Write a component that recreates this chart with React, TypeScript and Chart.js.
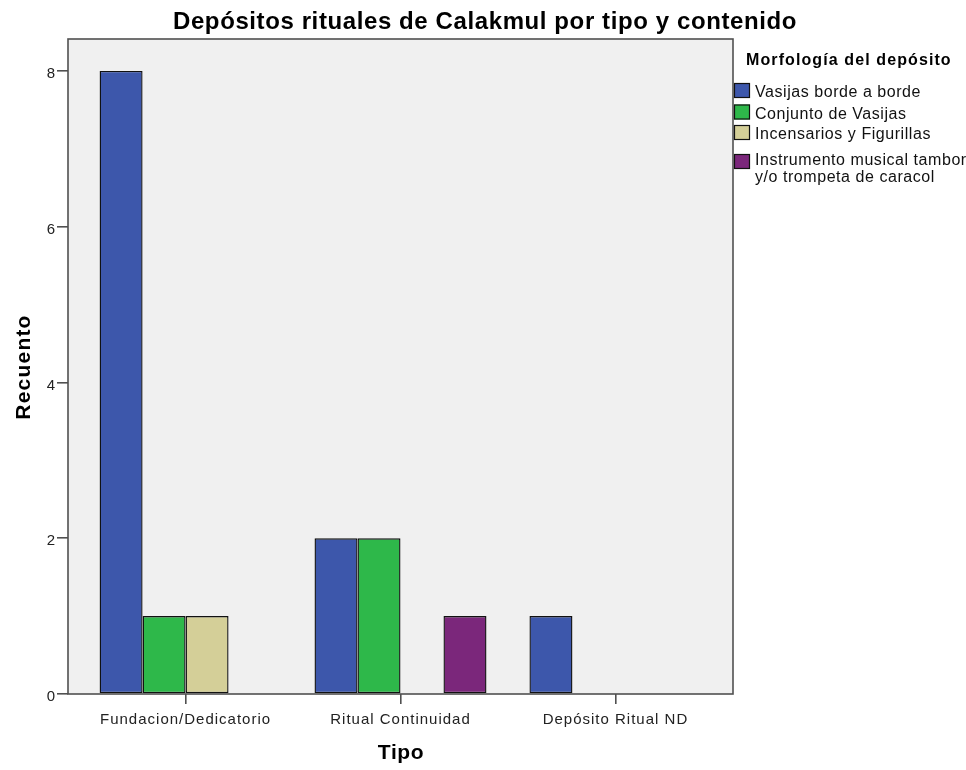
import React, { useEffect, useRef } from "react";
import { Chart, registerables } from "chart.js";

Chart.register(...registerables);

const TITLE = "Depósitos rituales de Calakmul por tipo y contenido";
const X_TITLE = "Tipo";
const Y_TITLE = "Recuento";
const LEGEND_TITLE = "Morfología del depósito";

const categories = ["Fundacion/Dedicatorio", "Ritual Continuidad", "Depósito Ritual ND"];

const seriesNames = [
  ["Vasijas borde a borde"],
  ["Conjunto de Vasijas"],
  ["Incensarios y Figurillas"],
  ["Instrumento musical tambor", "y/o trompeta de caracol"],
];

const vasijasBorde = [8, 2, 1];
const conjuntoVasijas = [1, 2, 0];
const incensarios = [1, 0, 0];
const instrumento = [0, 1, 0];

const seriesColors = ["#3d57ab", "#2eb84a", "#d4cf98", "#7b277b"];

const yTicks = [0, 2, 4, 6, 8];

const FONT = "Arial, 'Liberation Sans', sans-serif";

export default function App() {
  const ref = useRef<HTMLCanvasElement | null>(null);

  useEffect(() => {
    if (!ref.current) return;
    const values = [vasijasBorde, conjuntoVasijas, incensarios, instrumento];

    const decorPlugin = {
      id: "decor",
      beforeDraw(chart: any) {
        const { ctx, chartArea: a } = chart;
        ctx.save();
        ctx.fillStyle = "#f0f0f0";
        ctx.fillRect(a.left, a.top, a.right - a.left, a.bottom - a.top);
        ctx.restore();
        (ctx as any).letterSpacing = "1px";
      },
      afterDatasetsDraw(chart: any) {
        const { ctx, chartArea: a } = chart;
        ctx.save();
        ctx.strokeStyle = "#505050";
        ctx.lineWidth = 1.6;
        ctx.strokeRect(a.left, a.top, a.right - a.left, a.bottom - a.top);
        ctx.restore();
      },
      afterDraw(chart: any) {
        const { ctx } = chart;
        ctx.save();
        ctx.fillStyle = "#000";
        ctx.textBaseline = "alphabetic";
        ctx.textAlign = "center";
        // main title
        (ctx as any).letterSpacing = "0.6px";
        ctx.font = `bold 24px ${FONT}`;
        ctx.fillText(TITLE, 485, 29);
        // x title
        (ctx as any).letterSpacing = "0.6px";
        ctx.font = `bold 21px ${FONT}`;
        ctx.fillText(X_TITLE, 401, 759);
        // y title
        ctx.save();
        (ctx as any).letterSpacing = "1.2px";
        ctx.translate(30, 367);
        ctx.rotate(-Math.PI / 2);
        ctx.fillText(Y_TITLE, 0, 0);
        ctx.restore();
        // legend
        ctx.textAlign = "left";
        (ctx as any).letterSpacing = "1.1px";
        ctx.font = `bold 16px ${FONT}`;
        ctx.fillText(LEGEND_TITLE, 746, 65);
        (ctx as any).letterSpacing = "0.55px";
        ctx.font = `16px ${FONT}`;
        const boxTops = [83, 104.5, 125, 154];
        const baselines = [[97], [118.5], [139], [165, 182]];
        chart.data.datasets.forEach((ds: any, i: number) => {
          const top = boxTops[i];
          ctx.fillStyle = ds.backgroundColor;
          ctx.fillRect(734, top, 16, 15);
          ctx.strokeStyle = "#111";
          ctx.lineWidth = 1.2;
          ctx.strokeRect(734.5, top + 0.5, 15, 14);
          ctx.fillStyle = "#111";
          seriesNames[i].forEach((line, k) => {
            ctx.fillText(line, 755, baselines[i][k]);
          });
        });
        ctx.restore();
      },
    };

    const chart = new Chart(ref.current, {
      type: "bar",
      data: {
        datasets: values.map((vals, i) => ({
          label: seriesNames[i].join(" "),
          data: vals.map((v, j) => ({ x: j, y: v === 0 ? null : v })),
          backgroundColor: seriesColors[i],
          borderColor: "#111",
          borderWidth: 1.4,
          borderSkipped: false,
          categoryPercentage: 0.8,
          barPercentage: 1.0,
        })) as any,
      },
      options: {
        animation: false,
        responsive: false,
        devicePixelRatio: 1,
        layout: { padding: { top: 39, right: 233, left: 0, bottom: 0 } },
        plugins: {
          legend: { display: false },
          title: { display: false },
          tooltip: { enabled: false },
        },
        scales: {
          x: {
            type: "linear",
            min: -0.547,
            max: 2.547,
            offset: false,
            afterBuildTicks(scale: any) {
              scale.ticks = categories.map((_, i) => ({ value: i }));
            },
            afterFit(scale: any) {
              scale.height = 76;
            },
            ticks: {
              autoSkip: false,
              maxRotation: 0,
              padding: 7,
              color: "#222",
              font: { family: FONT, size: 15 },
              callback: (v: any) => categories[Math.round(Number(v))] ?? "",
            },
            grid: {
              display: true,
              offset: false,
              drawOnChartArea: false,
              drawTicks: true,
              tickLength: 10,
              color: "#505050",
              lineWidth: 1.6,
            },
            border: { display: false },
          },
          y: {
            type: "linear",
            min: 0,
            max: 8.41,
            afterBuildTicks(scale: any) {
              scale.ticks = yTicks.map((v) => ({ value: v }));
            },
            afterFit(scale: any) {
              scale.width = 68;
            },
            ticks: {
              padding: 1,
              labelOffset: 3,
              color: "#222",
              font: { family: FONT, size: 15 },
            },
            grid: {
              display: true,
              drawOnChartArea: false,
              drawTicks: true,
              tickLength: 11,
              color: "#505050",
              lineWidth: 1.6,
            },
            border: { display: false },
          },
        },
      },
      plugins: [decorPlugin],
    });
    return () => chart.destroy();
  }, []);

  return (
    <div style={{ position: "absolute", left: 0, top: 0, width: 966, height: 770, background: "#fff" }}>
      <canvas ref={ref} width={966} height={770} style={{ display: "block", width: 966, height: 770 }} />
    </div>
  );
}
